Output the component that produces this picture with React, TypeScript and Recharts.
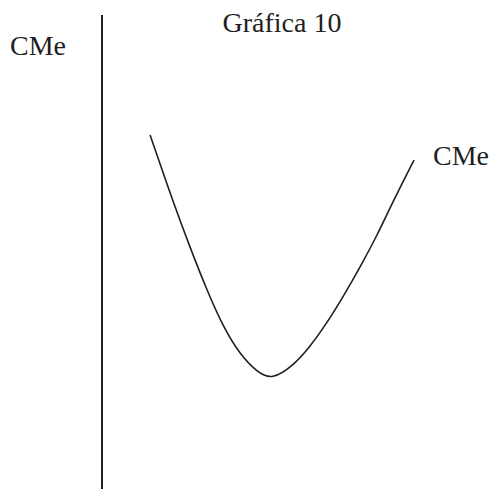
import { LineChart, Line, XAxis, YAxis, Label } from 'recharts'

// cantidad (q) y costo medio (CMe)
const quantity = [1.23, 1.82, 2.25, 2.68, 3.1, 3.53, 3.96, 4.35, 4.89, 5.32, 5.75, 6.17, 6.6, 7.03, 7.45, 7.98]
const averageCost = [7.47, 6.05, 5.1, 4.2, 3.42, 2.84, 2.47, 2.3, 2.6, 3.0, 3.5, 4.06, 4.68, 5.34, 6.08, 6.94]

const title = 'Gráfica 10'
const axisLabel = 'CMe'
const curveLabel = 'CMe'

const data = quantity.map((q, i) => ({ q, cme: averageCost[i] }))

const INK = '#231f20'
const FONT = '"Liberation Serif", "DejaVu Serif", serif'

const CurveEndLabel = (props: any) => {
  const { x, y, index } = props
  if (index !== data.length - 1) return null
  return (
    <text x={x + 19} y={y + 5} fill={INK} fontFamily={FONT} fontSize={28}>
      {curveLabel}
    </text>
  )
}

export default function App() {
  return (
    <div style={{ position: 'absolute', left: 0, top: 0, width: 493, height: 489, background: '#fff' }}>
      <LineChart width={493} height={489} data={data} margin={{ top: 15, right: 0, bottom: 0, left: 0 }}>
        <XAxis dataKey="q" type="number" domain={[0, 10]} hide />
        <YAxis
          type="number"
          domain={[0, 10]}
          width={102}
          tick={false}
          tickLine={false}
          axisLine={{ stroke: INK, strokeWidth: 2 }}
        >
          <Label
            content={() => (
              <text x={10} y={55} fill={INK} fontFamily={FONT} fontSize={28}>
                {axisLabel}
              </text>
            )}
          />
        </YAxis>
        <Line
          type="basis"
          dataKey="cme"
          stroke={INK}
          strokeWidth={1.6}
          dot={false}
          activeDot={false}
          isAnimationActive={false}
          label={<CurveEndLabel />}
        />
        <text x={282} y={32} textAnchor="middle" fill={INK} fontFamily={FONT} fontSize={28}>
          {title}
        </text>
      </LineChart>
    </div>
  )
}
